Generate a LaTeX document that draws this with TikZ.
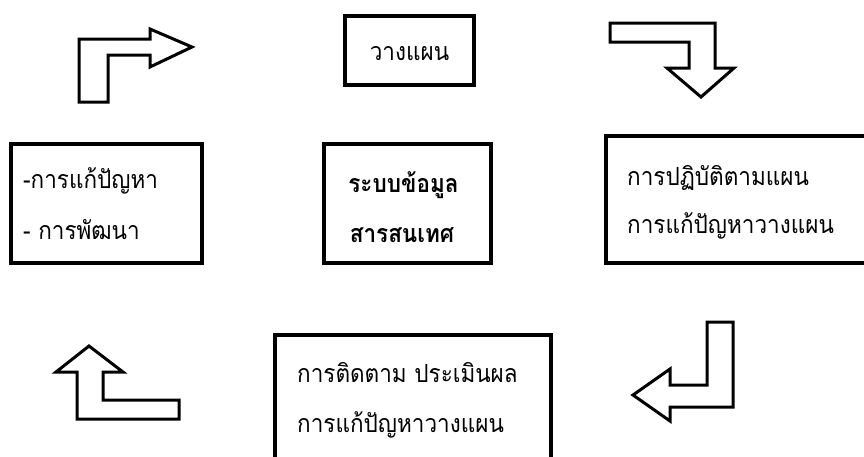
\documentclass[tikz,border=0pt]{standalone}
\usepackage{fontspec}
\newfontfamily\thaifont[Script=Thai,FakeStretch=0.9]{Loma}
\begin{document}
\begin{tikzpicture}[x=1pt,y=-1pt,
  box/.style={draw=black,line width=3.5pt,minimum width=#1,inner sep=0pt},
  arrowshape/.style={draw=black,line width=3pt,line join=miter,fill=white},
  txt/.style={font=\thaifont\fontsize{25}{25}\selectfont,inner sep=0pt},
  btxt/.style={font=\thaifont\bfseries\fontsize{25}{25}\selectfont,inner sep=0pt}]
\useasboundingbox (0,0) rectangle (864,456);
% boxes
\node[box=129pt,minimum height=69pt] (plan) at (409.5,50.5) {};
\node[box=167pt,minimum height=119pt] (center) at (407.5,203.5) {};
\node[box=191pt,minimum height=119pt] (left) at (106.5,203.5) {};
\node[box=264pt,minimum height=127pt] (right) at (738,199.5) {};
\node[box=276pt,minimum height=135pt] (bottom) at (413,402.5) {};
% texts
\node[txt,anchor=base] (plant) at (409.5,60) {วางแผน};
\node[btxt,anchor=base] (c1) at (403.5,192) {ระบบข้อมูล};
\node[btxt,anchor=base] (c2) at (402,242) {สารสนเทศ};
\node[txt,anchor=base west] (l1) at (23,188) {-การแก้ปัญหา};
\node[txt,anchor=base west] (l2) at (23,239) {- การพัฒนา};
\node[txt,anchor=base west] (r1) at (627,185) {การปฏิบัติตามแผน};
\node[txt,anchor=base west] (r2) at (627,233) {การแก้ปัญหาวางแผน};
\node[txt,anchor=base west] (b1) at (297,382) {การติดตาม ประเมินผล};
\node[txt,anchor=base west] (b2) at (297,432) {การแก้ปัญหาวางแผน};
% bent arrows
\draw[arrowshape] (79,102) -- (79,39) -- (150,39) -- (150,29) -- (192,47) -- (150,67) -- (150,55) -- (108,55) -- (108,102) -- cycle;
\draw[arrowshape] (610,23) -- (715,23) -- (715,68) -- (734,68) -- (701,97) -- (667,68) -- (689,68) -- (689,42) -- (610,42) -- cycle;
\draw[arrowshape] (733,322) -- (733,407) -- (670,407) -- (670,421) -- (633,395) -- (670,369) -- (670,385) -- (707,385) -- (707,322) -- cycle;
\draw[arrowshape] (179,419) -- (179,400) -- (103,400) -- (103,372) -- (123,372) -- (89,346) -- (56,372) -- (77,372) -- (77,419) -- cycle;
\end{tikzpicture}
\end{document}
